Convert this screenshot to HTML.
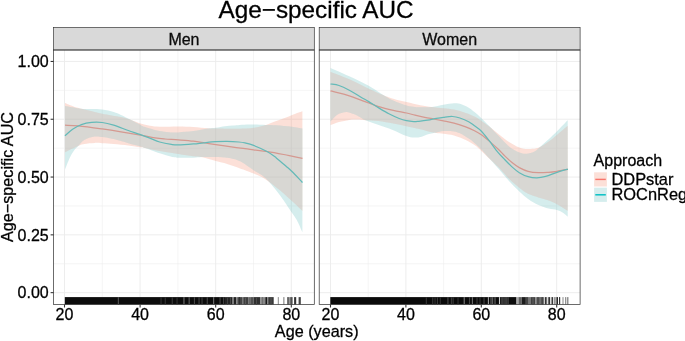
<!DOCTYPE html>
<html><head><meta charset="utf-8"><title>Age-specific AUC</title>
<style>html,body{margin:0;padding:0;background:#fff}svg{display:block;will-change:transform}text{stroke:#000;stroke-width:0.28px}</style></head>
<body>
<svg width="685" height="341" viewBox="0 0 685 341" font-family="'Liberation Sans', Arial, Helvetica, sans-serif">
<rect width="685" height="341" fill="#fff"/>
<clipPath id="cp1"><rect x="53.60" y="50.00" width="260.70" height="254.50"/></clipPath>
<rect x="53.60" y="50.00" width="260.70" height="254.50" fill="#fff"/>
<line x1="53.60" x2="314.30" y1="263.75" y2="263.75" stroke="#EDEDED" stroke-width="0.55"/>
<line x1="53.60" x2="314.30" y1="205.95" y2="205.95" stroke="#EDEDED" stroke-width="0.55"/>
<line x1="53.60" x2="314.30" y1="148.15" y2="148.15" stroke="#EDEDED" stroke-width="0.55"/>
<line x1="53.60" x2="314.30" y1="90.35" y2="90.35" stroke="#EDEDED" stroke-width="0.55"/>
<line x1="102.30" x2="102.30" y1="50.00" y2="304.50" stroke="#EDEDED" stroke-width="0.55"/>
<line x1="177.90" x2="177.90" y1="50.00" y2="304.50" stroke="#EDEDED" stroke-width="0.55"/>
<line x1="253.50" x2="253.50" y1="50.00" y2="304.50" stroke="#EDEDED" stroke-width="0.55"/>
<line x1="53.60" x2="314.30" y1="292.65" y2="292.65" stroke="#EBEBEB" stroke-width="0.9"/>
<line x1="53.60" x2="314.30" y1="234.85" y2="234.85" stroke="#EBEBEB" stroke-width="0.9"/>
<line x1="53.60" x2="314.30" y1="177.05" y2="177.05" stroke="#EBEBEB" stroke-width="0.9"/>
<line x1="53.60" x2="314.30" y1="119.25" y2="119.25" stroke="#EBEBEB" stroke-width="0.9"/>
<line x1="53.60" x2="314.30" y1="61.45" y2="61.45" stroke="#EBEBEB" stroke-width="0.9"/>
<line x1="64.50" x2="64.50" y1="50.00" y2="304.50" stroke="#EBEBEB" stroke-width="0.9"/>
<line x1="140.10" x2="140.10" y1="50.00" y2="304.50" stroke="#EBEBEB" stroke-width="0.9"/>
<line x1="215.70" x2="215.70" y1="50.00" y2="304.50" stroke="#EBEBEB" stroke-width="0.9"/>
<line x1="291.30" x2="291.30" y1="50.00" y2="304.50" stroke="#EBEBEB" stroke-width="0.9"/>
<clipPath id="cp2"><rect x="319.20" y="50.00" width="260.90" height="254.50"/></clipPath>
<rect x="319.20" y="50.00" width="260.90" height="254.50" fill="#fff"/>
<line x1="319.20" x2="580.10" y1="263.75" y2="263.75" stroke="#EDEDED" stroke-width="0.55"/>
<line x1="319.20" x2="580.10" y1="205.95" y2="205.95" stroke="#EDEDED" stroke-width="0.55"/>
<line x1="319.20" x2="580.10" y1="148.15" y2="148.15" stroke="#EDEDED" stroke-width="0.55"/>
<line x1="319.20" x2="580.10" y1="90.35" y2="90.35" stroke="#EDEDED" stroke-width="0.55"/>
<line x1="368.20" x2="368.20" y1="50.00" y2="304.50" stroke="#EDEDED" stroke-width="0.55"/>
<line x1="443.60" x2="443.60" y1="50.00" y2="304.50" stroke="#EDEDED" stroke-width="0.55"/>
<line x1="519.00" x2="519.00" y1="50.00" y2="304.50" stroke="#EDEDED" stroke-width="0.55"/>
<line x1="319.20" x2="580.10" y1="292.65" y2="292.65" stroke="#EBEBEB" stroke-width="0.9"/>
<line x1="319.20" x2="580.10" y1="234.85" y2="234.85" stroke="#EBEBEB" stroke-width="0.9"/>
<line x1="319.20" x2="580.10" y1="177.05" y2="177.05" stroke="#EBEBEB" stroke-width="0.9"/>
<line x1="319.20" x2="580.10" y1="119.25" y2="119.25" stroke="#EBEBEB" stroke-width="0.9"/>
<line x1="319.20" x2="580.10" y1="61.45" y2="61.45" stroke="#EBEBEB" stroke-width="0.9"/>
<line x1="330.50" x2="330.50" y1="50.00" y2="304.50" stroke="#EBEBEB" stroke-width="0.9"/>
<line x1="405.90" x2="405.90" y1="50.00" y2="304.50" stroke="#EBEBEB" stroke-width="0.9"/>
<line x1="481.30" x2="481.30" y1="50.00" y2="304.50" stroke="#EBEBEB" stroke-width="0.9"/>
<line x1="556.70" x2="556.70" y1="50.00" y2="304.50" stroke="#EBEBEB" stroke-width="0.9"/>
<g clip-path="url(#cp1)">
<path d="M65.00,125.20 C67.25,125.30 72.30,125.18 78.50,125.80 C84.70,126.42 95.12,127.90 102.20,128.90 C109.28,129.90 114.62,130.75 121.00,131.80 C127.38,132.85 134.83,134.18 140.50,135.20 C146.17,136.22 150.92,137.27 155.00,137.90 C159.08,138.53 161.10,138.67 165.00,139.00 C168.90,139.33 173.67,139.53 178.40,139.90 C183.13,140.27 188.95,140.68 193.40,141.20 C197.85,141.72 201.37,142.43 205.10,143.00 C208.83,143.57 211.15,143.92 215.80,144.60 C220.45,145.28 228.13,146.43 233.00,147.10 C237.87,147.77 241.57,148.15 245.00,148.60 C248.43,149.05 249.85,149.28 253.60,149.80 C257.35,150.32 262.48,150.92 267.50,151.70 C272.52,152.48 279.67,153.77 283.70,154.50 C287.73,155.23 288.58,155.47 291.70,156.10 C294.82,156.73 300.62,157.93 302.40,158.30" fill="none" stroke="#F8766D" stroke-width="1.25"/>
<path d="M65.00,135.70 C66.27,134.63 69.87,131.15 72.60,129.30 C75.33,127.45 78.22,125.75 81.40,124.60 C84.58,123.45 88.23,122.75 91.70,122.40 C95.17,122.05 98.53,122.03 102.20,122.50 C105.87,122.97 109.35,123.87 113.70,125.20 C118.05,126.53 123.83,128.92 128.30,130.50 C132.77,132.08 136.83,133.38 140.50,134.70 C144.17,136.02 147.10,137.18 150.30,138.40 C153.50,139.62 156.18,141.00 159.70,142.00 C163.22,143.00 168.28,143.92 171.40,144.40 C174.52,144.88 174.73,144.98 178.40,144.90 C182.07,144.82 189.18,144.25 193.40,143.90 C197.62,143.55 199.97,143.17 203.70,142.80 C207.43,142.43 211.90,141.93 215.80,141.70 C219.70,141.47 223.27,141.35 227.10,141.40 C230.93,141.45 235.82,141.75 238.80,142.00 C241.78,142.25 242.53,142.33 245.00,142.90 C247.47,143.47 249.85,143.93 253.60,145.40 C257.35,146.87 263.72,149.62 267.50,151.70 C271.28,153.78 273.12,155.40 276.30,157.90 C279.48,160.40 284.03,164.47 286.60,166.70 C289.17,168.93 289.50,169.15 291.70,171.30 C293.90,173.45 298.02,177.73 299.80,179.60 C301.58,181.47 301.97,182.02 302.40,182.50" fill="none" stroke="#00BFC4" stroke-width="1.25"/>
<path d="M65.00,102.90 C67.00,103.68 72.83,106.28 77.00,107.60 C81.17,108.92 85.80,109.78 90.00,110.80 C94.20,111.82 97.03,112.65 102.20,113.70 C107.37,114.75 116.17,116.05 121.00,117.10 C125.83,118.15 127.95,118.92 131.20,120.00 C134.45,121.08 137.37,122.63 140.50,123.60 C143.63,124.57 146.80,125.27 150.00,125.80 C153.20,126.33 154.97,126.68 159.70,126.80 C164.43,126.92 172.78,126.47 178.40,126.50 C184.02,126.53 188.47,126.70 193.40,127.00 C198.33,127.30 204.27,128.03 208.00,128.30 C211.73,128.57 212.97,128.53 215.80,128.60 C218.63,128.67 221.02,128.68 225.00,128.70 C228.98,128.72 234.93,128.85 239.70,128.70 C244.47,128.55 249.22,128.43 253.60,127.80 C257.98,127.17 262.22,126.02 266.00,124.90 C269.78,123.78 272.02,122.72 276.30,121.10 C280.58,119.48 287.35,116.83 291.70,115.20 C296.05,113.57 300.62,111.95 302.40,111.30 L302.40,210.90 C300.62,209.22 294.82,203.70 291.70,200.80 C288.58,197.90 286.27,195.70 283.70,193.50 C281.13,191.30 278.75,189.57 276.30,187.60 C273.85,185.63 271.43,183.47 269.00,181.70 C266.57,179.93 264.27,178.37 261.70,177.00 C259.13,175.63 256.38,174.63 253.60,173.50 C250.82,172.37 247.47,171.12 245.00,170.20 C242.53,169.28 241.78,169.03 238.80,168.00 C235.82,166.97 230.93,165.15 227.10,164.00 C223.27,162.85 219.95,162.22 215.80,161.10 C211.65,159.98 205.93,158.10 202.20,157.30 C198.47,156.50 197.37,156.83 193.40,156.30 C189.43,155.77 184.02,154.97 178.40,154.10 C172.78,153.23 165.27,152.13 159.70,151.10 C154.13,150.07 148.20,148.53 145.00,147.90 C141.80,147.27 143.28,147.72 140.50,147.30 C137.72,146.88 132.77,145.97 128.30,145.40 C123.83,144.83 118.05,144.27 113.70,143.90 C109.35,143.53 105.38,143.37 102.20,143.20 C99.02,143.03 97.58,142.78 94.60,142.90 C91.62,143.02 86.98,143.42 84.30,143.90 C81.62,144.38 81.72,144.40 78.50,145.80 C75.28,147.20 67.25,151.22 65.00,152.30 Z" fill="#F48C6F" fill-opacity="0.27"/>
<path d="M65.00,106.10 C67.73,106.55 76.95,108.32 81.40,108.80 C85.85,109.28 88.23,108.88 91.70,109.00 C95.17,109.12 98.53,109.00 102.20,109.50 C105.87,110.00 110.57,111.10 113.70,112.00 C116.83,112.90 118.08,113.57 121.00,114.90 C123.92,116.23 127.95,118.33 131.20,120.00 C134.45,121.67 138.20,123.73 140.50,124.90 C142.80,126.07 141.80,125.97 145.00,127.00 C148.20,128.03 155.30,130.20 159.70,131.10 C164.10,132.00 168.28,132.18 171.40,132.40 C174.52,132.62 174.73,132.62 178.40,132.40 C182.07,132.18 188.47,131.75 193.40,131.10 C198.33,130.45 204.27,129.07 208.00,128.50 C211.73,127.93 212.97,128.08 215.80,127.70 C218.63,127.32 222.13,126.57 225.00,126.20 C227.87,125.83 230.55,125.72 233.00,125.50 C235.45,125.28 237.12,125.07 239.70,124.90 C242.28,124.73 246.18,124.55 248.50,124.50 C250.82,124.45 250.68,124.53 253.60,124.60 C256.52,124.67 262.22,124.80 266.00,124.90 C269.78,125.00 272.02,124.90 276.30,125.20 C280.58,125.50 287.35,126.17 291.70,126.70 C296.05,127.23 300.62,128.12 302.40,128.40 L302.40,232.30 C301.47,230.25 298.58,223.30 296.80,220.00 C295.02,216.70 293.88,215.75 291.70,212.50 C289.52,209.25 286.27,204.17 283.70,200.50 C281.13,196.83 278.75,193.63 276.30,190.50 C273.85,187.37 271.43,184.27 269.00,181.70 C266.57,179.13 264.27,177.02 261.70,175.10 C259.13,173.18 256.55,172.13 253.60,170.20 C250.65,168.27 246.47,165.08 244.00,163.50 C241.53,161.92 240.50,161.45 238.80,160.70 C237.10,159.95 235.75,159.50 233.80,159.00 C231.85,158.50 230.10,158.03 227.10,157.70 C224.10,157.37 219.95,157.12 215.80,157.00 C211.65,156.88 205.93,156.88 202.20,157.00 C198.47,157.12 197.37,157.58 193.40,157.70 C189.43,157.82 182.07,157.87 178.40,157.70 C174.73,157.53 174.52,157.43 171.40,156.70 C168.28,155.97 164.10,154.77 159.70,153.30 C155.30,151.83 148.20,149.05 145.00,147.90 C141.80,146.75 143.28,147.18 140.50,146.40 C137.72,145.62 132.77,144.42 128.30,143.20 C123.83,141.98 118.05,140.13 113.70,139.10 C109.35,138.07 105.38,137.42 102.20,137.00 C99.02,136.58 97.58,136.10 94.60,136.60 C91.62,137.10 86.98,138.47 84.30,140.00 C81.62,141.53 80.20,144.05 78.50,145.80 C76.80,147.55 75.57,148.48 74.10,150.50 C72.63,152.52 71.22,154.72 69.70,157.90 C68.18,161.08 65.78,167.65 65.00,169.60 Z" fill="#63BCBC" fill-opacity="0.27"/>
<clipPath id="ov1"><path d="M65.00,102.90 C67.00,103.68 72.83,106.28 77.00,107.60 C81.17,108.92 85.80,109.78 90.00,110.80 C94.20,111.82 97.03,112.65 102.20,113.70 C107.37,114.75 116.17,116.05 121.00,117.10 C125.83,118.15 127.95,118.92 131.20,120.00 C134.45,121.08 137.37,122.63 140.50,123.60 C143.63,124.57 146.80,125.27 150.00,125.80 C153.20,126.33 154.97,126.68 159.70,126.80 C164.43,126.92 172.78,126.47 178.40,126.50 C184.02,126.53 188.47,126.70 193.40,127.00 C198.33,127.30 204.27,128.03 208.00,128.30 C211.73,128.57 212.97,128.53 215.80,128.60 C218.63,128.67 221.02,128.68 225.00,128.70 C228.98,128.72 234.93,128.85 239.70,128.70 C244.47,128.55 249.22,128.43 253.60,127.80 C257.98,127.17 262.22,126.02 266.00,124.90 C269.78,123.78 272.02,122.72 276.30,121.10 C280.58,119.48 287.35,116.83 291.70,115.20 C296.05,113.57 300.62,111.95 302.40,111.30 L302.40,210.90 C300.62,209.22 294.82,203.70 291.70,200.80 C288.58,197.90 286.27,195.70 283.70,193.50 C281.13,191.30 278.75,189.57 276.30,187.60 C273.85,185.63 271.43,183.47 269.00,181.70 C266.57,179.93 264.27,178.37 261.70,177.00 C259.13,175.63 256.38,174.63 253.60,173.50 C250.82,172.37 247.47,171.12 245.00,170.20 C242.53,169.28 241.78,169.03 238.80,168.00 C235.82,166.97 230.93,165.15 227.10,164.00 C223.27,162.85 219.95,162.22 215.80,161.10 C211.65,159.98 205.93,158.10 202.20,157.30 C198.47,156.50 197.37,156.83 193.40,156.30 C189.43,155.77 184.02,154.97 178.40,154.10 C172.78,153.23 165.27,152.13 159.70,151.10 C154.13,150.07 148.20,148.53 145.00,147.90 C141.80,147.27 143.28,147.72 140.50,147.30 C137.72,146.88 132.77,145.97 128.30,145.40 C123.83,144.83 118.05,144.27 113.70,143.90 C109.35,143.53 105.38,143.37 102.20,143.20 C99.02,143.03 97.58,142.78 94.60,142.90 C91.62,143.02 86.98,143.42 84.30,143.90 C81.62,144.38 81.72,144.40 78.50,145.80 C75.28,147.20 67.25,151.22 65.00,152.30 Z"/></clipPath>
<path d="M65.00,106.10 C67.73,106.55 76.95,108.32 81.40,108.80 C85.85,109.28 88.23,108.88 91.70,109.00 C95.17,109.12 98.53,109.00 102.20,109.50 C105.87,110.00 110.57,111.10 113.70,112.00 C116.83,112.90 118.08,113.57 121.00,114.90 C123.92,116.23 127.95,118.33 131.20,120.00 C134.45,121.67 138.20,123.73 140.50,124.90 C142.80,126.07 141.80,125.97 145.00,127.00 C148.20,128.03 155.30,130.20 159.70,131.10 C164.10,132.00 168.28,132.18 171.40,132.40 C174.52,132.62 174.73,132.62 178.40,132.40 C182.07,132.18 188.47,131.75 193.40,131.10 C198.33,130.45 204.27,129.07 208.00,128.50 C211.73,127.93 212.97,128.08 215.80,127.70 C218.63,127.32 222.13,126.57 225.00,126.20 C227.87,125.83 230.55,125.72 233.00,125.50 C235.45,125.28 237.12,125.07 239.70,124.90 C242.28,124.73 246.18,124.55 248.50,124.50 C250.82,124.45 250.68,124.53 253.60,124.60 C256.52,124.67 262.22,124.80 266.00,124.90 C269.78,125.00 272.02,124.90 276.30,125.20 C280.58,125.50 287.35,126.17 291.70,126.70 C296.05,127.23 300.62,128.12 302.40,128.40 L302.40,232.30 C301.47,230.25 298.58,223.30 296.80,220.00 C295.02,216.70 293.88,215.75 291.70,212.50 C289.52,209.25 286.27,204.17 283.70,200.50 C281.13,196.83 278.75,193.63 276.30,190.50 C273.85,187.37 271.43,184.27 269.00,181.70 C266.57,179.13 264.27,177.02 261.70,175.10 C259.13,173.18 256.55,172.13 253.60,170.20 C250.65,168.27 246.47,165.08 244.00,163.50 C241.53,161.92 240.50,161.45 238.80,160.70 C237.10,159.95 235.75,159.50 233.80,159.00 C231.85,158.50 230.10,158.03 227.10,157.70 C224.10,157.37 219.95,157.12 215.80,157.00 C211.65,156.88 205.93,156.88 202.20,157.00 C198.47,157.12 197.37,157.58 193.40,157.70 C189.43,157.82 182.07,157.87 178.40,157.70 C174.73,157.53 174.52,157.43 171.40,156.70 C168.28,155.97 164.10,154.77 159.70,153.30 C155.30,151.83 148.20,149.05 145.00,147.90 C141.80,146.75 143.28,147.18 140.50,146.40 C137.72,145.62 132.77,144.42 128.30,143.20 C123.83,141.98 118.05,140.13 113.70,139.10 C109.35,138.07 105.38,137.42 102.20,137.00 C99.02,136.58 97.58,136.10 94.60,136.60 C91.62,137.10 86.98,138.47 84.30,140.00 C81.62,141.53 80.20,144.05 78.50,145.80 C76.80,147.55 75.57,148.48 74.10,150.50 C72.63,152.52 71.22,154.72 69.70,157.90 C68.18,161.08 65.78,167.65 65.00,169.60 Z" fill="#FBDDE4" fill-opacity="0.15" clip-path="url(#ov1)"/>
</g>
<g clip-path="url(#cp2)">
<path d="M330.60,90.90 C333.72,91.72 344.23,94.25 349.30,95.80 C354.37,97.35 357.77,99.02 361.00,100.20 C364.23,101.38 365.75,101.82 368.70,102.90 C371.65,103.98 374.60,105.45 378.70,106.70 C382.80,107.95 388.67,109.35 393.30,110.40 C397.93,111.45 402.88,112.20 406.50,113.00 C410.12,113.80 411.97,114.48 415.00,115.20 C418.03,115.92 421.62,116.67 424.70,117.30 C427.78,117.93 430.38,118.40 433.50,119.00 C436.62,119.60 439.98,120.22 443.40,120.90 C446.82,121.58 450.28,122.12 454.00,123.10 C457.72,124.08 462.28,125.53 465.70,126.80 C469.12,128.07 471.88,129.37 474.50,130.70 C477.12,132.03 478.95,133.07 481.40,134.80 C483.85,136.53 486.43,138.73 489.20,141.10 C491.97,143.47 495.42,146.53 498.00,149.00 C500.58,151.47 502.37,153.65 504.70,155.90 C507.03,158.15 509.57,160.55 512.00,162.50 C514.43,164.45 516.62,166.13 519.30,167.60 C521.98,169.07 524.92,170.45 528.10,171.30 C531.28,172.15 534.97,172.53 538.40,172.70 C541.83,172.87 545.60,172.53 548.70,172.30 C551.80,172.07 553.83,171.78 557.00,171.30 C560.17,170.82 565.92,169.72 567.70,169.40" fill="none" stroke="#F8766D" stroke-width="1.25"/>
<path d="M330.60,84.00 C332.00,84.25 335.88,84.47 339.00,85.50 C342.12,86.53 345.63,88.25 349.30,90.20 C352.97,92.15 357.77,95.30 361.00,97.20 C364.23,99.10 365.75,99.82 368.70,101.60 C371.65,103.38 375.33,105.87 378.70,107.90 C382.07,109.93 385.48,112.03 388.90,113.80 C392.32,115.57 396.27,117.35 399.20,118.50 C402.13,119.65 404.07,120.18 406.50,120.70 C408.93,121.22 411.75,121.50 413.80,121.60 C415.85,121.70 416.50,121.53 418.80,121.30 C421.10,121.07 424.67,120.68 427.60,120.20 C430.53,119.72 433.77,118.88 436.40,118.40 C439.03,117.92 440.72,117.62 443.40,117.30 C446.08,116.98 449.75,116.38 452.50,116.50 C455.25,116.62 457.20,117.13 459.90,118.00 C462.60,118.87 466.27,120.40 468.70,121.70 C471.13,123.00 472.38,124.22 474.50,125.80 C476.62,127.38 478.95,128.72 481.40,131.20 C483.85,133.68 486.43,137.17 489.20,140.70 C491.97,144.23 495.42,149.27 498.00,152.40 C500.58,155.53 502.37,157.08 504.70,159.50 C507.03,161.92 509.57,164.70 512.00,166.90 C514.43,169.10 516.62,171.07 519.30,172.70 C521.98,174.33 525.17,175.83 528.10,176.70 C531.03,177.57 533.97,177.95 536.90,177.90 C539.83,177.85 542.35,177.33 545.70,176.40 C549.05,175.47 553.33,173.52 557.00,172.30 C560.67,171.08 565.92,169.63 567.70,169.10" fill="none" stroke="#00BFC4" stroke-width="1.25"/>
<path d="M330.60,71.90 C333.72,73.12 342.95,76.40 349.30,79.20 C355.65,82.00 363.08,86.08 368.70,88.70 C374.32,91.32 378.90,93.23 383.00,94.90 C387.10,96.57 389.38,97.50 393.30,98.70 C397.22,99.90 402.00,101.02 406.50,102.10 C411.00,103.18 416.05,104.38 420.30,105.20 C424.55,106.02 428.15,106.50 432.00,107.00 C435.85,107.50 439.73,107.77 443.40,108.20 C447.07,108.63 450.28,108.82 454.00,109.60 C457.72,110.38 462.28,111.75 465.70,112.90 C469.12,114.05 471.88,115.17 474.50,116.50 C477.12,117.83 478.95,119.23 481.40,120.90 C483.85,122.57 486.30,124.28 489.20,126.50 C492.10,128.72 495.50,131.62 498.80,134.20 C502.10,136.78 505.58,139.80 509.00,142.00 C512.42,144.20 516.12,146.25 519.30,147.40 C522.48,148.55 524.92,148.83 528.10,148.90 C531.28,148.97 534.97,149.03 538.40,147.80 C541.83,146.57 545.60,143.65 548.70,141.50 C551.80,139.35 553.83,137.52 557.00,134.90 C560.17,132.28 565.92,127.32 567.70,125.80 L567.70,210.80 C565.92,209.70 560.17,205.92 557.00,204.20 C553.83,202.48 551.80,201.63 548.70,200.50 C545.60,199.37 541.83,198.52 538.40,197.40 C534.97,196.28 531.28,195.42 528.10,193.80 C524.92,192.18 522.48,190.20 519.30,187.70 C516.12,185.20 512.42,182.15 509.00,178.80 C505.58,175.45 502.10,170.98 498.80,167.60 C495.50,164.22 492.10,161.28 489.20,158.50 C486.30,155.72 483.85,153.13 481.40,150.90 C478.95,148.67 477.12,146.93 474.50,145.10 C471.88,143.27 469.12,141.50 465.70,139.90 C462.28,138.30 457.72,136.52 454.00,135.50 C450.28,134.48 446.33,134.23 443.40,133.80 C440.47,133.37 438.30,133.15 436.40,132.90 C434.50,132.65 434.68,132.90 432.00,132.30 C429.32,131.70 424.55,130.30 420.30,129.30 C416.05,128.30 411.00,127.25 406.50,126.30 C402.00,125.35 397.93,124.47 393.30,123.60 C388.67,122.73 383.33,121.67 378.70,121.10 C374.07,120.53 368.93,120.45 365.50,120.20 C362.07,119.95 360.80,119.65 358.10,119.60 C355.40,119.55 352.48,119.48 349.30,119.90 C346.12,120.32 342.12,121.23 339.00,122.10 C335.88,122.97 332.00,124.60 330.60,125.10 Z" fill="#F48C6F" fill-opacity="0.27"/>
<path d="M330.60,67.90 C333.72,69.30 342.95,73.32 349.30,76.30 C355.65,79.28 363.32,82.87 368.70,85.80 C374.08,88.73 377.50,91.43 381.60,93.90 C385.70,96.37 389.15,98.67 393.30,100.60 C397.45,102.53 402.88,104.43 406.50,105.50 C410.12,106.57 412.70,106.70 415.00,107.00 C417.30,107.30 417.47,107.30 420.30,107.30 C423.13,107.30 428.15,107.42 432.00,107.00 C435.85,106.58 439.73,105.42 443.40,104.80 C447.07,104.18 451.25,103.47 454.00,103.30 C456.75,103.13 457.45,103.07 459.90,103.80 C462.35,104.53 466.27,106.32 468.70,107.70 C471.13,109.08 472.38,110.35 474.50,112.10 C476.62,113.85 478.95,115.88 481.40,118.20 C483.85,120.52 486.30,123.02 489.20,126.00 C492.10,128.98 495.50,132.70 498.80,136.10 C502.10,139.50 505.58,143.67 509.00,146.40 C512.42,149.13 516.35,151.28 519.30,152.50 C522.25,153.72 524.25,153.82 526.70,153.70 C529.15,153.58 532.05,152.68 534.00,151.80 C535.95,150.92 535.95,150.48 538.40,148.40 C540.85,146.32 545.60,142.15 548.70,139.30 C551.80,136.45 553.83,134.47 557.00,131.30 C560.17,128.13 565.92,122.13 567.70,120.30 L567.70,216.70 C566.97,216.08 565.08,214.10 563.30,213.00 C561.52,211.90 559.43,210.83 557.00,210.10 C554.57,209.37 551.80,209.45 548.70,208.60 C545.60,207.75 541.83,206.60 538.40,205.00 C534.97,203.40 531.28,201.25 528.10,199.00 C524.92,196.75 522.48,194.50 519.30,191.50 C516.12,188.50 512.42,184.73 509.00,181.00 C505.58,177.27 502.10,172.88 498.80,169.10 C495.50,165.32 492.10,161.57 489.20,158.30 C486.30,155.03 483.85,152.07 481.40,149.50 C478.95,146.93 476.62,144.73 474.50,142.90 C472.38,141.07 471.13,140.10 468.70,138.50 C466.27,136.90 462.35,134.48 459.90,133.30 C457.45,132.12 456.75,131.77 454.00,131.40 C451.25,131.03 446.33,130.90 443.40,131.10 C440.47,131.30 438.80,132.10 436.40,132.60 C434.00,133.10 431.45,133.42 429.00,134.10 C426.55,134.78 424.23,136.12 421.70,136.70 C419.17,137.28 416.33,137.70 413.80,137.60 C411.27,137.50 409.92,137.33 406.50,136.10 C403.08,134.87 397.93,132.03 393.30,130.20 C388.67,128.37 383.33,126.77 378.70,125.10 C374.07,123.43 368.45,121.43 365.50,120.20 C362.55,118.97 362.97,118.72 361.00,117.70 C359.03,116.68 356.13,115.07 353.70,114.10 C351.27,113.13 348.85,111.95 346.40,111.90 C343.95,111.85 340.95,112.95 339.00,113.80 C337.05,114.65 336.10,115.73 334.70,117.00 C333.30,118.27 331.28,120.67 330.60,121.40 Z" fill="#63BCBC" fill-opacity="0.27"/>
<clipPath id="ov2"><path d="M330.60,71.90 C333.72,73.12 342.95,76.40 349.30,79.20 C355.65,82.00 363.08,86.08 368.70,88.70 C374.32,91.32 378.90,93.23 383.00,94.90 C387.10,96.57 389.38,97.50 393.30,98.70 C397.22,99.90 402.00,101.02 406.50,102.10 C411.00,103.18 416.05,104.38 420.30,105.20 C424.55,106.02 428.15,106.50 432.00,107.00 C435.85,107.50 439.73,107.77 443.40,108.20 C447.07,108.63 450.28,108.82 454.00,109.60 C457.72,110.38 462.28,111.75 465.70,112.90 C469.12,114.05 471.88,115.17 474.50,116.50 C477.12,117.83 478.95,119.23 481.40,120.90 C483.85,122.57 486.30,124.28 489.20,126.50 C492.10,128.72 495.50,131.62 498.80,134.20 C502.10,136.78 505.58,139.80 509.00,142.00 C512.42,144.20 516.12,146.25 519.30,147.40 C522.48,148.55 524.92,148.83 528.10,148.90 C531.28,148.97 534.97,149.03 538.40,147.80 C541.83,146.57 545.60,143.65 548.70,141.50 C551.80,139.35 553.83,137.52 557.00,134.90 C560.17,132.28 565.92,127.32 567.70,125.80 L567.70,210.80 C565.92,209.70 560.17,205.92 557.00,204.20 C553.83,202.48 551.80,201.63 548.70,200.50 C545.60,199.37 541.83,198.52 538.40,197.40 C534.97,196.28 531.28,195.42 528.10,193.80 C524.92,192.18 522.48,190.20 519.30,187.70 C516.12,185.20 512.42,182.15 509.00,178.80 C505.58,175.45 502.10,170.98 498.80,167.60 C495.50,164.22 492.10,161.28 489.20,158.50 C486.30,155.72 483.85,153.13 481.40,150.90 C478.95,148.67 477.12,146.93 474.50,145.10 C471.88,143.27 469.12,141.50 465.70,139.90 C462.28,138.30 457.72,136.52 454.00,135.50 C450.28,134.48 446.33,134.23 443.40,133.80 C440.47,133.37 438.30,133.15 436.40,132.90 C434.50,132.65 434.68,132.90 432.00,132.30 C429.32,131.70 424.55,130.30 420.30,129.30 C416.05,128.30 411.00,127.25 406.50,126.30 C402.00,125.35 397.93,124.47 393.30,123.60 C388.67,122.73 383.33,121.67 378.70,121.10 C374.07,120.53 368.93,120.45 365.50,120.20 C362.07,119.95 360.80,119.65 358.10,119.60 C355.40,119.55 352.48,119.48 349.30,119.90 C346.12,120.32 342.12,121.23 339.00,122.10 C335.88,122.97 332.00,124.60 330.60,125.10 Z"/></clipPath>
<path d="M330.60,67.90 C333.72,69.30 342.95,73.32 349.30,76.30 C355.65,79.28 363.32,82.87 368.70,85.80 C374.08,88.73 377.50,91.43 381.60,93.90 C385.70,96.37 389.15,98.67 393.30,100.60 C397.45,102.53 402.88,104.43 406.50,105.50 C410.12,106.57 412.70,106.70 415.00,107.00 C417.30,107.30 417.47,107.30 420.30,107.30 C423.13,107.30 428.15,107.42 432.00,107.00 C435.85,106.58 439.73,105.42 443.40,104.80 C447.07,104.18 451.25,103.47 454.00,103.30 C456.75,103.13 457.45,103.07 459.90,103.80 C462.35,104.53 466.27,106.32 468.70,107.70 C471.13,109.08 472.38,110.35 474.50,112.10 C476.62,113.85 478.95,115.88 481.40,118.20 C483.85,120.52 486.30,123.02 489.20,126.00 C492.10,128.98 495.50,132.70 498.80,136.10 C502.10,139.50 505.58,143.67 509.00,146.40 C512.42,149.13 516.35,151.28 519.30,152.50 C522.25,153.72 524.25,153.82 526.70,153.70 C529.15,153.58 532.05,152.68 534.00,151.80 C535.95,150.92 535.95,150.48 538.40,148.40 C540.85,146.32 545.60,142.15 548.70,139.30 C551.80,136.45 553.83,134.47 557.00,131.30 C560.17,128.13 565.92,122.13 567.70,120.30 L567.70,216.70 C566.97,216.08 565.08,214.10 563.30,213.00 C561.52,211.90 559.43,210.83 557.00,210.10 C554.57,209.37 551.80,209.45 548.70,208.60 C545.60,207.75 541.83,206.60 538.40,205.00 C534.97,203.40 531.28,201.25 528.10,199.00 C524.92,196.75 522.48,194.50 519.30,191.50 C516.12,188.50 512.42,184.73 509.00,181.00 C505.58,177.27 502.10,172.88 498.80,169.10 C495.50,165.32 492.10,161.57 489.20,158.30 C486.30,155.03 483.85,152.07 481.40,149.50 C478.95,146.93 476.62,144.73 474.50,142.90 C472.38,141.07 471.13,140.10 468.70,138.50 C466.27,136.90 462.35,134.48 459.90,133.30 C457.45,132.12 456.75,131.77 454.00,131.40 C451.25,131.03 446.33,130.90 443.40,131.10 C440.47,131.30 438.80,132.10 436.40,132.60 C434.00,133.10 431.45,133.42 429.00,134.10 C426.55,134.78 424.23,136.12 421.70,136.70 C419.17,137.28 416.33,137.70 413.80,137.60 C411.27,137.50 409.92,137.33 406.50,136.10 C403.08,134.87 397.93,132.03 393.30,130.20 C388.67,128.37 383.33,126.77 378.70,125.10 C374.07,123.43 368.45,121.43 365.50,120.20 C362.55,118.97 362.97,118.72 361.00,117.70 C359.03,116.68 356.13,115.07 353.70,114.10 C351.27,113.13 348.85,111.95 346.40,111.90 C343.95,111.85 340.95,112.95 339.00,113.80 C337.05,114.65 336.10,115.73 334.70,117.00 C333.30,118.27 331.28,120.67 330.60,121.40 Z" fill="#FBDDE4" fill-opacity="0.15" clip-path="url(#ov2)"/>
</g>
<rect x="64.80" y="297.10" width="160.20" height="7.40" fill="#0c0c0c"/>
<rect x="117.80" y="297.10" width="1.10" height="7.40" fill="#555555"/>
<rect x="160.50" y="297.10" width="1.10" height="7.40" fill="#333333"/>
<rect x="164.70" y="297.10" width="1.10" height="7.40" fill="#333333"/>
<rect x="171.70" y="297.10" width="1.10" height="7.40" fill="#3a3a3a"/>
<rect x="176.50" y="297.10" width="1.10" height="7.40" fill="#303030"/>
<rect x="183.40" y="297.10" width="1.10" height="7.40" fill="#707070"/>
<rect x="188.60" y="297.10" width="1.10" height="7.40" fill="#606060"/>
<rect x="193.90" y="297.10" width="1.10" height="7.40" fill="#444444"/>
<rect x="198.50" y="297.10" width="1.10" height="7.40" fill="#444444"/>
<rect x="201.50" y="297.10" width="1.10" height="7.40" fill="#404040"/>
<rect x="206.70" y="297.10" width="1.10" height="7.40" fill="#484848"/>
<rect x="213.10" y="297.10" width="1.10" height="7.40" fill="#707070"/>
<rect x="219.50" y="297.10" width="1.10" height="7.40" fill="#484848"/>
<rect x="223.10" y="297.10" width="1.10" height="7.40" fill="#444444"/>
<rect x="225.00" y="297.10" width="7.60" height="7.40" fill="#242424"/>
<rect x="227.00" y="297.10" width="1.00" height="7.40" fill="#404040"/>
<rect x="230.00" y="297.10" width="1.00" height="7.40" fill="#444444"/>
<rect x="232.60" y="297.10" width="1.20" height="7.40" fill="#777777"/>
<rect x="233.80" y="297.10" width="2.20" height="7.40" fill="#222222"/>
<rect x="236.00" y="297.10" width="1.30" height="7.40" fill="#888888"/>
<rect x="237.30" y="297.10" width="4.70" height="7.40" fill="#444444"/>
<rect x="239.00" y="297.10" width="1.00" height="7.40" fill="#303030"/>
<rect x="242.00" y="297.10" width="1.20" height="7.40" fill="#777777"/>
<rect x="243.20" y="297.10" width="5.40" height="7.40" fill="#404040"/>
<rect x="245.00" y="297.10" width="1.00" height="7.40" fill="#585858"/>
<rect x="248.60" y="297.10" width="1.60" height="7.40" fill="#686868"/>
<rect x="250.20" y="297.10" width="3.40" height="7.40" fill="#505050"/>
<rect x="253.60" y="297.10" width="6.80" height="7.40" fill="#303030"/>
<rect x="256.00" y="297.10" width="1.00" height="7.40" fill="#4a4a4a"/>
<rect x="260.40" y="297.10" width="4.90" height="7.40" fill="#888888"/>
<rect x="262.00" y="297.10" width="1.00" height="7.40" fill="#707070"/>
<rect x="265.30" y="297.10" width="1.90" height="7.40" fill="#181818"/>
<rect x="267.20" y="297.10" width="1.00" height="7.40" fill="#777777"/>
<rect x="268.20" y="297.10" width="5.50" height="7.40" fill="#3a3a3a"/>
<rect x="270.50" y="297.10" width="1.00" height="7.40" fill="#555555"/>
<rect x="277.80" y="297.10" width="1.00" height="7.40" fill="#888888"/>
<rect x="283.00" y="297.10" width="1.60" height="7.40" fill="#aaaaaa"/>
<rect x="287.10" y="297.10" width="1.90" height="7.40" fill="#666666"/>
<rect x="289.00" y="297.10" width="1.20" height="7.40" fill="#999999"/>
<rect x="290.20" y="297.10" width="2.40" height="7.40" fill="#505050"/>
<rect x="294.10" y="297.10" width="2.10" height="7.40" fill="#333333"/>
<rect x="298.60" y="297.10" width="2.20" height="7.40" fill="#444444"/>
<rect x="330.30" y="297.10" width="179.70" height="7.40" fill="#0a0a0a"/>
<rect x="425.75" y="297.10" width="1.15" height="7.40" fill="#333333"/>
<rect x="432.15" y="297.10" width="1.15" height="7.40" fill="#383838"/>
<rect x="434.45" y="297.10" width="1.15" height="7.40" fill="#303030"/>
<rect x="436.85" y="297.10" width="1.15" height="7.40" fill="#383838"/>
<rect x="439.75" y="297.10" width="1.15" height="7.40" fill="#303030"/>
<rect x="447.35" y="297.10" width="1.15" height="7.40" fill="#484848"/>
<rect x="450.85" y="297.10" width="1.15" height="7.40" fill="#383838"/>
<rect x="452.55" y="297.10" width="1.15" height="7.40" fill="#383838"/>
<rect x="457.45" y="297.10" width="1.15" height="7.40" fill="#303030"/>
<rect x="463.65" y="297.10" width="1.15" height="7.40" fill="#777777"/>
<rect x="468.95" y="297.10" width="1.15" height="7.40" fill="#444444"/>
<rect x="471.85" y="297.10" width="1.15" height="7.40" fill="#666666"/>
<rect x="476.45" y="297.10" width="1.15" height="7.40" fill="#383838"/>
<rect x="479.45" y="297.10" width="1.15" height="7.40" fill="#333333"/>
<rect x="483.45" y="297.10" width="1.15" height="7.40" fill="#404040"/>
<rect x="487.85" y="297.10" width="1.15" height="7.40" fill="#999999"/>
<rect x="490.45" y="297.10" width="1.15" height="7.40" fill="#606060"/>
<rect x="492.05" y="297.10" width="1.15" height="7.40" fill="#606060"/>
<rect x="494.45" y="297.10" width="1.15" height="7.40" fill="#606060"/>
<rect x="498.95" y="297.10" width="1.15" height="7.40" fill="#cccccc"/>
<rect x="501.45" y="297.10" width="1.15" height="7.40" fill="#606060"/>
<rect x="503.45" y="297.10" width="1.15" height="7.40" fill="#555555"/>
<rect x="505.45" y="297.10" width="1.15" height="7.40" fill="#606060"/>
<rect x="507.45" y="297.10" width="1.15" height="7.40" fill="#555555"/>
<rect x="510.00" y="297.10" width="6.50" height="7.40" fill="#0c0c0c"/>
<rect x="516.50" y="297.10" width="2.00" height="7.40" fill="#aaaaaa"/>
<rect x="518.50" y="297.10" width="3.20" height="7.40" fill="#606060"/>
<rect x="521.70" y="297.10" width="3.30" height="7.40" fill="#1c1c1c"/>
<rect x="525.00" y="297.10" width="3.70" height="7.40" fill="#3a3a3a"/>
<rect x="526.60" y="297.10" width="0.80" height="7.40" fill="#585858"/>
<rect x="528.70" y="297.10" width="1.70" height="7.40" fill="#777777"/>
<rect x="530.40" y="297.10" width="4.70" height="7.40" fill="#404040"/>
<rect x="532.50" y="297.10" width="1.00" height="7.40" fill="#606060"/>
<rect x="535.10" y="297.10" width="1.20" height="7.40" fill="#888888"/>
<rect x="536.30" y="297.10" width="7.60" height="7.40" fill="#585858"/>
<rect x="537.50" y="297.10" width="1.00" height="7.40" fill="#404040"/>
<rect x="539.60" y="297.10" width="1.00" height="7.40" fill="#808080"/>
<rect x="541.80" y="297.10" width="1.00" height="7.40" fill="#404040"/>
<rect x="543.90" y="297.10" width="1.10" height="7.40" fill="#cccccc"/>
<rect x="545.00" y="297.10" width="1.80" height="7.40" fill="#333333"/>
<rect x="546.80" y="297.10" width="1.50" height="7.40" fill="#dddddd"/>
<rect x="548.30" y="297.10" width="1.70" height="7.40" fill="#333333"/>
<rect x="550.00" y="297.10" width="1.50" height="7.40" fill="#dddddd"/>
<rect x="551.50" y="297.10" width="1.50" height="7.40" fill="#383838"/>
<rect x="553.00" y="297.10" width="1.40" height="7.40" fill="#dddddd"/>
<rect x="554.40" y="297.10" width="1.20" height="7.40" fill="#555555"/>
<rect x="555.60" y="297.10" width="0.90" height="7.40" fill="#cccccc"/>
<rect x="556.50" y="297.10" width="1.40" height="7.40" fill="#111111"/>
<rect x="559.00" y="297.10" width="1.20" height="7.40" fill="#333333"/>
<rect x="562.30" y="297.10" width="1.40" height="7.40" fill="#aaaaaa"/>
<rect x="565.10" y="297.10" width="1.20" height="7.40" fill="#888888"/>
<rect x="567.20" y="297.10" width="1.20" height="7.40" fill="#777777"/>
<rect x="53.60" y="27.40" width="260.70" height="22.60" fill="#D9D9D9" stroke="#333333" stroke-width="0.68"/>
<rect x="53.60" y="50.00" width="260.70" height="254.50" fill="none" stroke="#333333" stroke-width="0.72"/>
<text x="183.95" y="44.6" font-size="16" text-anchor="middle" fill="#0d0d0d">Men</text>
<rect x="319.20" y="27.40" width="260.90" height="22.60" fill="#D9D9D9" stroke="#333333" stroke-width="0.68"/>
<rect x="319.20" y="50.00" width="260.90" height="254.50" fill="none" stroke="#333333" stroke-width="0.72"/>
<text x="449.65" y="44.6" font-size="16" text-anchor="middle" fill="#0d0d0d">Women</text>
<line x1="50.60" x2="53.60" y1="292.65" y2="292.65" stroke="#333333" stroke-width="1.07"/>
<text x="48.7" y="298.40" font-size="16" text-anchor="end" fill="#000">0.00</text>
<line x1="50.60" x2="53.60" y1="234.85" y2="234.85" stroke="#333333" stroke-width="1.07"/>
<text x="48.7" y="240.60" font-size="16" text-anchor="end" fill="#000">0.25</text>
<line x1="50.60" x2="53.60" y1="177.05" y2="177.05" stroke="#333333" stroke-width="1.07"/>
<text x="48.7" y="182.80" font-size="16" text-anchor="end" fill="#000">0.50</text>
<line x1="50.60" x2="53.60" y1="119.25" y2="119.25" stroke="#333333" stroke-width="1.07"/>
<text x="48.7" y="125.00" font-size="16" text-anchor="end" fill="#000">0.75</text>
<line x1="50.60" x2="53.60" y1="61.45" y2="61.45" stroke="#333333" stroke-width="1.07"/>
<text x="48.7" y="67.20" font-size="16" text-anchor="end" fill="#000">1.00</text>
<line x1="64.50" x2="64.50" y1="304.50" y2="307.50" stroke="#333333" stroke-width="1.07"/>
<text x="64.50" y="320.2" font-size="16" text-anchor="middle" fill="#000">20</text>
<line x1="140.10" x2="140.10" y1="304.50" y2="307.50" stroke="#333333" stroke-width="1.07"/>
<text x="140.10" y="320.2" font-size="16" text-anchor="middle" fill="#000">40</text>
<line x1="215.70" x2="215.70" y1="304.50" y2="307.50" stroke="#333333" stroke-width="1.07"/>
<text x="215.70" y="320.2" font-size="16" text-anchor="middle" fill="#000">60</text>
<line x1="291.30" x2="291.30" y1="304.50" y2="307.50" stroke="#333333" stroke-width="1.07"/>
<text x="291.30" y="320.2" font-size="16" text-anchor="middle" fill="#000">80</text>
<line x1="330.50" x2="330.50" y1="304.50" y2="307.50" stroke="#333333" stroke-width="1.07"/>
<text x="330.50" y="320.2" font-size="16" text-anchor="middle" fill="#000">20</text>
<line x1="405.90" x2="405.90" y1="304.50" y2="307.50" stroke="#333333" stroke-width="1.07"/>
<text x="405.90" y="320.2" font-size="16" text-anchor="middle" fill="#000">40</text>
<line x1="481.30" x2="481.30" y1="304.50" y2="307.50" stroke="#333333" stroke-width="1.07"/>
<text x="481.30" y="320.2" font-size="16" text-anchor="middle" fill="#000">60</text>
<line x1="556.70" x2="556.70" y1="304.50" y2="307.50" stroke="#333333" stroke-width="1.07"/>
<text x="556.70" y="320.2" font-size="16" text-anchor="middle" fill="#000">80</text>
<text x="316.1" y="17.8" font-size="24.3" text-anchor="middle" fill="#000">Age−specific AUC</text>
<text x="316.7" y="337.4" font-size="16.2" text-anchor="middle" fill="#000">Age (years)</text>
<text transform="translate(12.5,177.0) rotate(-90)" font-size="16.2" text-anchor="middle" fill="#000">Age−specific AUC</text>
<text x="593.6" y="165.9" font-size="16" fill="#000">Approach</text>
<rect x="594.1" y="172.30" width="12.8" height="14.2" fill="#F48C6F" fill-opacity="0.27"/>
<line x1="595.3" x2="605.8" y1="179.40" y2="179.40" stroke="#F8766D" stroke-width="1.45"/>
<text x="611.5" y="184.50" font-size="16.4" fill="#000">DDPstar</text>
<rect x="594.1" y="187.70" width="12.8" height="14.2" fill="#63BCBC" fill-opacity="0.27"/>
<line x1="595.3" x2="605.8" y1="194.80" y2="194.80" stroke="#00BFC4" stroke-width="1.45"/>
<text x="611.5" y="200.30" font-size="16.4" fill="#000">ROCnReg</text>
</svg>
</body></html>
